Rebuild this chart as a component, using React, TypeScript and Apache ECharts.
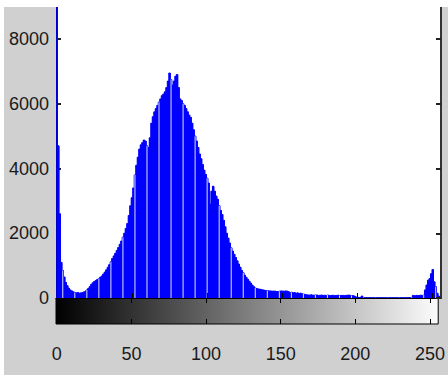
import React, { useEffect, useRef } from "react";
import * as echarts from "echarts";

const grayLevels: string[] = Array.from({ length: 256 }, (_, i) => String(i));

const counts: number[] = [
  20000, 4700, 2600, 1100, 850, 650, 480, 380, 300, 250,
  220, 190, 170, 160, 170, 150, 160, 170, 190, 210,
  250, 290, 350, 420, 470, 510, 540, 570, 600, 640,
  680, 740, 800, 870, 950, 1030, 1120, 1220, 1300, 1380,
  1470, 1560, 1660, 1760, 1880, 2000, 2150, 2300, 2550, 2850,
  3100, 3400, 3800, 4100, 4350, 4600, 4730, 4800, 4880, 4850,
  4700, 4650, 4950, 5400, 5600, 5750, 5850, 5950, 6050, 6150,
  6250, 6300, 6370, 6500, 6700, 6950, 6750, 6580, 6700, 6850,
  6900, 6500, 6150, 6100, 6000, 5950, 5850, 5750, 5650, 5580,
  5400, 5200, 5000, 4850, 4650, 4450, 4300, 4120, 3950, 3820,
  3700, 3550, 2900, 3300, 3450, 3300, 3150, 3050, 2850, 2700,
  2580, 2400, 2200, 2000, 1850, 1700, 1550, 1450, 1350, 1250,
  1150, 1050, 950, 850, 780, 700, 640, 580, 520, 460,
  400, 350, 310, 290, 280, 270, 260, 250, 240, 230,
  230, 220, 220, 210, 215, 210, 200, 200, 210, 220,
  215, 210, 220, 210, 200, 170, 180, 160, 170, 150,
  160, 140, 150, 130, 120, 110, 100, 95, 90, 100,
  90, 85, 95, 90, 80, 85, 90, 80, 85, 80,
  90, 80, 75, 85, 80, 75, 80, 85, 75, 80,
  80, 75, 80, 85, 90, 80, 75, 70, 60, 30,
  20, 15, 20, 60, 15, 10, 10, 8, 10, 8,
  8, 6, 8, 6, 5, 6, 5, 6, 5, 6,
  5, 6, 5, 6, 5, 5, 6, 5, 6, 8,
  6, 8, 10, 8, 10, 12, 20, 80, 70, 80,
  75, 80, 85, 80, 90, 250, 400, 550, 600, 750,
  880, 500, 350, 150, 60, 30,
];

const yTickStep = 2000;
const yMax = 9205;
const xTickValues: number[] = [0, 50, 100, 150, 200, 250];
const xInnerTicks: number[] = [50, 100, 150, 200, 250];

export default function App() {
  const ref = useRef<HTMLDivElement>(null);
  useEffect(() => {
    if (!ref.current) return;
    const chart = echarts.init(ref.current, null, { renderer: "svg" });
    const font = {
      fontFamily: "Liberation Sans, Arial, sans-serif",
      fontSize: 18,
      color: "#1a1a1a",
    };
    const blue = "#0000ff";
    const stripe = "#dde0ff";
    chart.setOption({
      animation: false,
      backgroundColor: "#d0d0d0",
      grid: [
        {
          left: 56, right: 7, top: 0, bottom: 77,
          show: true, backgroundColor: "#ffffff", borderWidth: 0,
        },
        {
          left: 56, right: 7, top: 298, height: 26,
          show: true, borderColor: "#000", borderWidth: 1,
          backgroundColor: {
            type: "linear", x: 0, y: 0, x2: 1, y2: 0,
            colorStops: [
              { offset: 0, color: "#000000" },
              { offset: 1, color: "#fcfcfc" },
            ],
          },
        },
      ],
      xAxis: [
        {
          type: "category", gridIndex: 0, data: grayLevels, boundaryGap: true,
          axisLine: { show: true, lineStyle: { color: "#000", width: 1 } },
          axisTick: {
            show: true, inside: true, length: 5, alignWithLabel: true,
            interval: (i: number) => i > 0 && i % 50 === 0,
            lineStyle: { color: "#000" },
          },
          axisLabel: { show: false },
          splitLine: { show: false },
          z: 5,
        },
        {
          type: "value", gridIndex: 1, min: -0.5, max: 255.5,
          axisLine: { show: false },
          axisTick: { show: true, inside: true, length: 5, customValues: xInnerTicks, lineStyle: { color: "#000" } },
          axisLabel: { show: true, customValues: xTickValues, margin: 21, ...font },
          splitLine: { show: false },
        },
        {
          type: "value", gridIndex: 1, position: "top", min: -0.5, max: 255.5,
          axisLine: { show: false },
          axisTick: { show: true, inside: true, length: 5, customValues: xInnerTicks, lineStyle: { color: "#000" } },
          axisLabel: { show: false },
          splitLine: { show: false },
        },
      ],
      yAxis: [
        {
          type: "value", gridIndex: 0, min: 0, max: yMax, interval: yTickStep,
          axisLine: { show: true, lineStyle: { color: "#000" } },
          axisTick: { show: true, inside: true, length: 5, lineStyle: { color: "#222", width: 2 } },
          axisLabel: {
            margin: 7, showMaxLabel: false, ...font,
            formatter: (v: number) => (v % yTickStep === 0 ? String(v) : ""),
          },
          splitLine: { show: false },
        },
        {
          type: "value", gridIndex: 0, position: "right", min: 0, max: yMax, interval: yTickStep,
          axisLine: { show: true, lineStyle: { color: "#333", width: 2 } },
          axisTick: { show: true, inside: true, length: 5, lineStyle: { color: "#222", width: 2 } },
          axisLabel: { show: false },
          splitLine: { show: false },
          z: 5,
        },
        { type: "value", gridIndex: 1, min: 0, max: 1, show: false },
      ],
      graphic: [
        { type: "rect", left: 0, top: 0, shape: { width: 448, height: 7 }, style: { fill: "#ffffff" }, z: 100 },
        { type: "rect", left: 0, top: 0, shape: { width: 4, height: 375 }, style: { fill: "#ffffff" }, z: 100 },
      ],
      series: [
        {
          type: "line", xAxisIndex: 0, yAxisIndex: 0,
          data: counts, step: "middle", symbol: "none",
          lineStyle: { color: blue, width: 1 },
          areaStyle: { color: blue, opacity: 1 },
          clip: true, silent: true, z: 1,
        },
        {
          type: "bar", xAxisIndex: 0, yAxisIndex: 0,
          data: counts,
          barWidth: "100%", barGap: "-100%",
          itemStyle: { color: blue },
          clip: true, silent: true, z: 2,
        },
        {
          type: "bar", xAxisIndex: 0, yAxisIndex: 0,
          data: counts.map((v, i) => (i % 8 === 4 ? v : "-")),
          barWidth: "60%", barGap: "-100%",
          itemStyle: { color: stripe },
          clip: true, silent: true, z: 3,
        },
      ],
    });
    return () => chart.dispose();
  }, []);
  return (
    <div
      ref={ref}
      style={{ position: "fixed", left: 0, top: 0, width: 448, height: 375 }}
    />
  );
}
